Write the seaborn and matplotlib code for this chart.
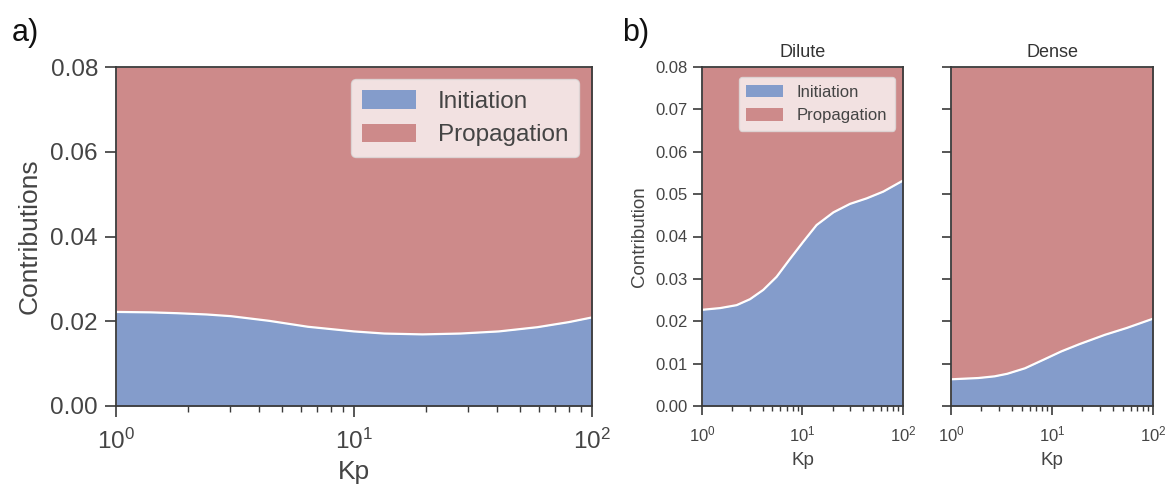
import numpy as np
import pandas as pd
import matplotlib
matplotlib.use("Agg")
import matplotlib.pyplot as plt
from matplotlib.patches import Patch
import seaborn as sns

# ---- data ----
kp_a = [1.0, 1.4, 1.81, 2.4, 3.04, 4.4, 6.4, 10.0, 13.4, 19.4, 28.0, 40.6, 59.0, 80.0, 100.0]
init_a = [0.0222, 0.0221, 0.0219, 0.0216, 0.0212, 0.0201, 0.0187, 0.0176, 0.0171, 0.0169,
          0.0171, 0.0176, 0.0186, 0.0198, 0.0209]

kp_dil = [1.0, 1.51, 2.21, 3.0, 4.07, 5.53, 7.5, 10.2, 13.8, 20.3, 29.7, 43.5, 63.7, 100.0]
init_dil = [0.0227, 0.0231, 0.0238, 0.0252, 0.0274, 0.0305, 0.0347, 0.0388, 0.0427, 0.0457,
            0.0477, 0.0490, 0.0506, 0.0532]

kp_den = [1.0, 1.86, 2.7, 3.6, 5.4, 8.2, 12.4, 18.7, 33.4, 54.7, 100.0]
init_den = [0.0063, 0.0066, 0.0070, 0.0076, 0.0089, 0.0109, 0.0129, 0.0146, 0.0168, 0.0184, 0.0206]

total = 0.08
series = ["Initiation", "Propagation"]
blue = "#849CCB"
red = "#CD8A8A"

sns.set_theme(style="ticks")
plt.rcParams["font.family"] = ["Liberation Sans", "DejaVu Sans"]
plt.rcParams["axes.edgecolor"] = "#3a3a3a"
plt.rcParams["axes.linewidth"] = 1.3

W, H = 1166, 492
fig = plt.figure(figsize=(W / 100, H / 100), dpi=100)

def box(l, r, t, b):
    return [l / W, 1 - b / H, (r - l) / W, (b - t) / H]

ax_a = fig.add_axes(box(116, 592, 67, 406))
ax_d = fig.add_axes(box(702, 903, 67, 406))
ax_n = fig.add_axes(box(951, 1153, 67, 406))

def draw(ax, kp, init, tick_fs, minor_len, major_len, pad, xpad):
    df = pd.DataFrame({"Kp": kp, "Initiation": init})
    ax.fill_between(df["Kp"], 0, df["Initiation"], color=blue, linewidth=0)
    ax.fill_between(df["Kp"], df["Initiation"], total, color=red, linewidth=0)
    sns.lineplot(data=df, x="Kp", y="Initiation", ax=ax, color="white", linewidth=1.6)
    ax.set_xscale("log")
    ax.set_xlim(1, 100)
    ax.set_ylim(0, total)
    ax.tick_params(axis="both", which="major", labelsize=tick_fs, length=major_len,
                   width=1.2, colors="#3a3a3a", labelcolor="#444444", pad=pad)
    ax.tick_params(axis="x", which="major", pad=xpad)
    ax.tick_params(axis="x", which="minor", length=minor_len, width=1.0, colors="#3a3a3a")
    for s in ax.spines.values():
        s.set_visible(True)

draw(ax_a, kp_a, init_a, 17.5, 4.5, 8, 5, 8)
ax_a.set_yticks([0, 0.02, 0.04, 0.06, 0.08])
ax_a.set_yticklabels(["0.00", "0.02", "0.04", "0.06", "0.08"])
ax_a.set_xlabel("Kp", fontsize=19, color="#444444", labelpad=5)
ax_a.set_ylabel("Contributions", fontsize=19, color="#444444", labelpad=6)

yt = [0, 0.01, 0.02, 0.03, 0.04, 0.05, 0.06, 0.07, 0.08]
draw(ax_d, kp_dil, init_dil, 12, 3.5, 6.5, 4, 7)
ax_d.set_yticks(yt)
ax_d.set_yticklabels([f"{v:.2f}" for v in yt])
ax_d.set_xlabel("Kp", fontsize=13.5, color="#444444", labelpad=5)
ax_d.set_ylabel("Contribution", fontsize=13.5, color="#444444", labelpad=5)
ax_d.set_title("Dilute", fontsize=13, color="#333333", pad=7)

draw(ax_n, kp_den, init_den, 12, 3.5, 6.5, 4, 7)
ax_n.set_yticks(yt)
ax_n.set_yticklabels([])
ax_n.set_xlabel("Kp", fontsize=13.5, color="#444444", labelpad=5)
ax_n.set_ylabel("")
ax_n.set_title("Dense", fontsize=13, color="#333333", pad=7)

handles = [Patch(facecolor=blue, edgecolor="none"), Patch(facecolor=red, edgecolor="none")]
leg = ax_a.legend(handles, series, loc="upper right", fontsize=17.5, frameon=True,
                  framealpha=0.75, facecolor="white", edgecolor="#dddddd",
                  handlelength=2.2, handleheight=0.8, borderpad=0.45,
                  labelspacing=0.45, handletextpad=0.9, borderaxespad=0,
                  bbox_to_anchor=(1 - 13 / 476, 1 - 12 / 339))
for t in leg.get_texts():
    t.set_color("#444444")
leg2 = ax_d.legend(handles, series, loc="upper right", fontsize=12, frameon=True,
                   framealpha=0.75, facecolor="white", edgecolor="#dddddd",
                   handlelength=2.2, handleheight=0.8, borderpad=0.45,
                   labelspacing=0.5, handletextpad=0.85, borderaxespad=0,
                   bbox_to_anchor=(1 - 8 / 201, 1 - 10 / 339))
for t in leg2.get_texts():
    t.set_color("#444444")

fig.text(12 / W, 1 - 33 / H, "a)", fontsize=22, color="#111111", va="center", ha="left")
fig.text(622 / W, 1 - 33 / H, "b)", fontsize=22, color="#111111", va="center", ha="left")

fig.savefig("out.png", dpi=100)
